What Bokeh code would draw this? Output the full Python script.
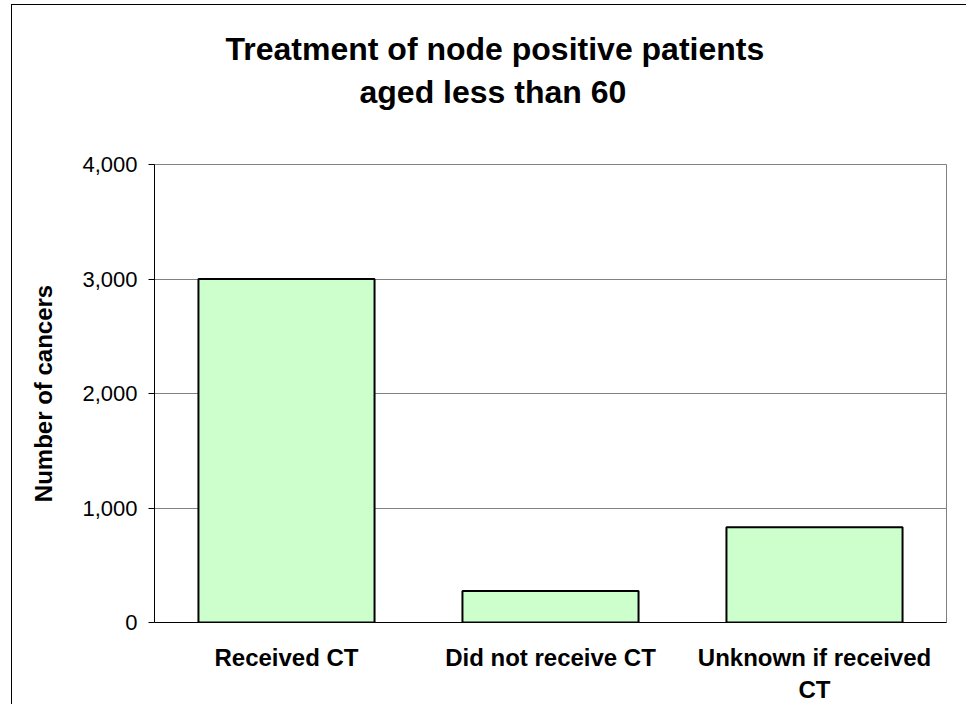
from bokeh.plotting import figure
from bokeh.models import (Range1d, FactorRange, FixedTicker, NumeralTickFormatter,
                          Title, CategoricalAxis, ColumnDataSource)
from bokeh.embed import file_html
from bokeh.resources import INLINE

# ---- data ----
categories = ["Received CT", "Did not receive CT", "Unknown if received\nCT"]
counts = [3000, 276, 832]
y_ticks = [0, 1000, 2000, 3000, 4000]
title_line1 = "Treatment of node positive patients"
title_line2 = "aged less than 60"
y_label = "Number of cancers"

FONT = "Liberation Sans"

source = ColumnDataSource(data=dict(cat=categories, n=counts))

p = figure(width=955, height=700,
           x_range=FactorRange(*categories),
           y_range=Range1d(0, 4000),
           output_backend="svg", toolbar_location=None,
           min_border_left=142, min_border_right=21,
           min_border_top=159, min_border_bottom=82)
p.styles = {"margin-left": "11px", "margin-top": "4px",
            "border-left": "1px solid black", "border-top": "1px solid black"}

p.vbar(x="cat", top="n", width=0.667, source=source,
       fill_color="#CCFFCC", line_color="black", line_width=2)

p.background_fill_color = "white"
p.border_fill_color = "white"
p.outline_line_color = "#808080"
p.outline_line_width = 1

# y axis
p.yaxis.ticker = FixedTicker(ticks=y_ticks)
p.yaxis.formatter = NumeralTickFormatter(format="0,0")
p.yaxis.major_label_text_font = FONT
p.yaxis.major_label_text_font_size = "22px"
p.yaxis.major_label_text_color = "black"
p.yaxis.major_tick_out = 6
p.yaxis.major_tick_in = 0
p.yaxis.minor_tick_line_color = None
p.yaxis.major_label_standoff = 11
p.yaxis.axis_line_color = "black"
p.yaxis.major_tick_line_color = "black"
p.yaxis.axis_label = y_label
p.yaxis.axis_label_text_font = FONT
p.yaxis.axis_label_text_font_size = "24px"
p.yaxis.axis_label_text_font_style = "bold"
p.yaxis.axis_label_text_color = "black"
p.yaxis.axis_label_standoff = 22

# x axis
p.xaxis.major_tick_line_color = None
p.xaxis.major_tick_out = 0
p.xaxis.major_tick_in = 0
p.xaxis.axis_line_color = "black"
p.xaxis.major_label_text_font = FONT
p.xaxis.major_label_text_font_size = "24px"
p.xaxis.major_label_text_font_style = "bold"
p.xaxis.major_label_text_color = "black"
p.xaxis.major_label_standoff = 21

# grid
p.xgrid.grid_line_color = None
p.ygrid.grid_line_color = "#808080"
p.ygrid.grid_line_width = 1

# invisible spacer axis between the frame and the title
spacer = CategoricalAxis(axis_line_color=None, major_tick_line_color=None,
                         minor_tick_line_color=None, major_tick_out=52,
                         major_tick_in=0, major_label_standoff=0,
                         major_label_text_font_size="1px",
                         major_label_text_color=None,
                         major_label_overrides={c: "" for c in categories})
p.add_layout(spacer, "above")

# two-line title (each line positioned to be centred on the chart area)
t2 = Title(text=title_line2, align="left", offset=205, standoff=5,
           text_font=FONT, text_font_size="32px", text_font_style="bold",
           text_color="black")
t1 = Title(text=title_line1, align="left", offset=71, standoff=5,
           text_font=FONT, text_font_size="32px", text_font_style="bold",
           text_color="black")
p.add_layout(t2, "above")
p.add_layout(t1, "above")

open("out.html", "w").write(file_html(p, INLINE))
